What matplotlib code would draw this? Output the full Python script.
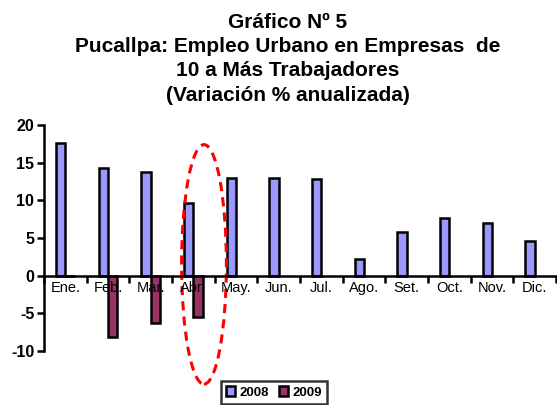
import numpy as np
import matplotlib
matplotlib.use("Agg")
import matplotlib.pyplot as plt
from matplotlib.patches import Ellipse

plt.rcParams['font.family'] = ['Liberation Sans', 'DejaVu Sans']

meses = ['Ene.', 'Feb.', 'Mar.', 'Abr.', 'May.', 'Jun.', 'Jul.', 'Ago.', 'Set.', 'Oct.', 'Nov.', 'Dic.']
v2008 = [17.6, 14.3, 13.7, 9.7, 13.0, 13.0, 12.8, 2.2, 5.8, 7.7, 7.0, 4.6]
v2009 = [0.0, -8.1, -6.3, -5.5]
yticks = [-10, -5, 0, 5, 10, 15, 20]

fig = plt.figure(figsize=(5.57, 4.05), dpi=100)
ax = fig.add_axes([44 / 557, 1 - 351 / 405, 512 / 557, 226 / 405])

x = np.arange(len(meses))
w = 0.22
ax.bar(x - w / 2, v2008, w, color='#9999FF', edgecolor='black', linewidth=1.8, label='2008')
ax.bar(x[:len(v2009)] + w / 2, v2009, w, color='#993366', edgecolor='black', linewidth=1.8, label='2009')

ax.set_xlim(-0.5, len(meses) - 0.5)
ax.set_ylim(-10, 20)
ax.set_yticks(yticks)
ax.set_yticklabels([str(t) for t in yticks], fontsize=11.5, fontweight='bold')

# x axis at zero, tick marks between months, labels at month centres
ax.spines['bottom'].set_position(('data', 0))
ax.spines['top'].set_visible(False)
ax.spines['right'].set_visible(False)
for s in ['left', 'bottom']:
    ax.spines[s].set_linewidth(1.8)
ax.set_xticks(np.arange(len(meses) + 1) - 0.5)
ax.set_xticklabels([])
ax.set_xticks(x, minor=True)
ax.set_xticklabels(meses, minor=True, fontsize=10.5)
ax.tick_params(axis='x', which='major', direction='out', length=5, width=1.8)
ax.tick_params(axis='x', which='minor', length=0, pad=4)
ax.tick_params(axis='y', direction='out', length=5, width=1.8, pad=2)

# red dashed ellipse around April
ell = Ellipse((3.25, 1.5), 1.05, 31.8, fill=False, edgecolor='red', linewidth=2.2,
              linestyle=(0, (3, 2)), clip_on=False)
ax.add_patch(ell)

fig.text(288 / 557, 1 - 13 / 405,
         'Gráfico Nº 5\nPucallpa: Empleo Urbano en Empresas  de\n10 a Más Trabajadores\n(Variación % anualizada)',
         ha='center', va='top', fontsize=15, fontweight='bold', linespacing=1.35)

leg = fig.legend(loc='upper center', bbox_to_anchor=(274 / 557, 1 - 381 / 405), ncol=2,
                 frameon=True, fancybox=False, edgecolor='black', prop={'size': 9.5, 'weight': 'bold'},
                 handlelength=0.7, handleheight=0.7, handletextpad=0.3, columnspacing=0.8,
                 borderpad=0.4, borderaxespad=0)
leg.get_frame().set_linewidth(1.8)

fig.savefig('out.png', dpi=100)
